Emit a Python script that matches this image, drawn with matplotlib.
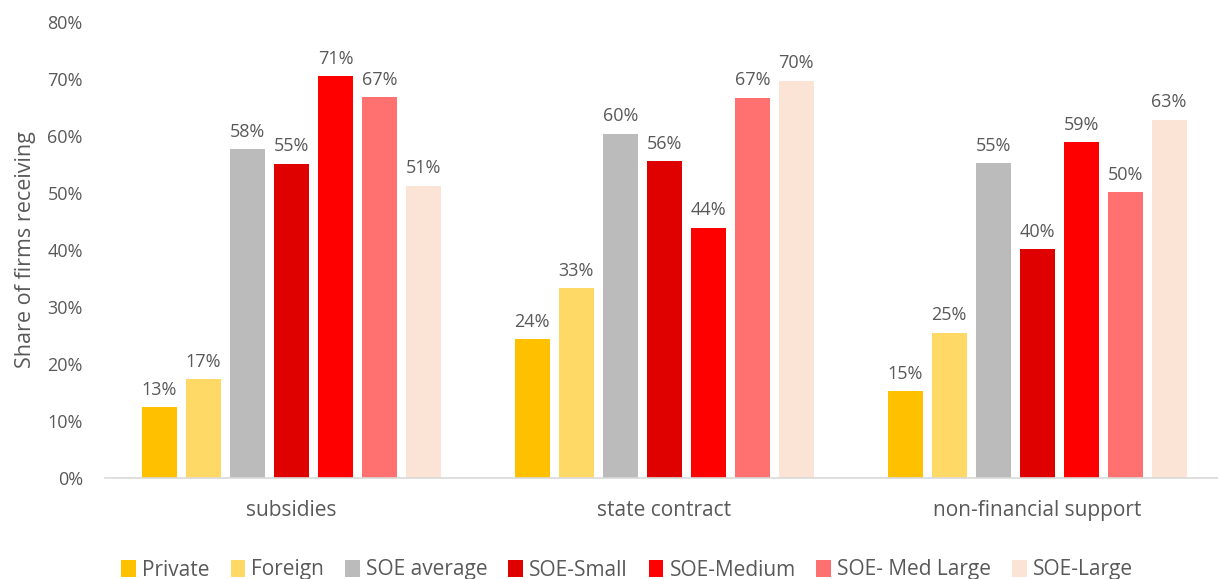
import matplotlib
matplotlib.use("Agg")
import matplotlib.pyplot as plt
import numpy as np
from matplotlib.patches import Patch

categories = ["subsidies", "state contract", "non-financial support"]
series = ["Private", "Foreign", "SOE average", "SOE-Small", "SOE-Medium", "SOE- Med Large", "SOE-Large"]
private = [12.4, 24.3, 15.2]
foreign = [17.3, 33.3, 25.5]
soe_avg = [57.7, 60.4, 55.2]
soe_small = [55.1, 55.6, 40.1]
soe_medium = [70.5, 43.9, 58.9]
soe_medlarge = [66.8, 66.7, 50.1]
soe_large = [51.3, 69.7, 62.8]
labels = [["13%", "24%", "15%"], ["17%", "33%", "25%"], ["58%", "60%", "55%"],
          ["55%", "56%", "40%"], ["71%", "44%", "59%"], ["67%", "67%", "50%"],
          ["51%", "70%", "63%"]]
values = [private, foreign, soe_avg, soe_small, soe_medium, soe_medlarge, soe_large]
colors = ["#FFC000", "#FFD966", "#BBBBBB", "#DF0000", "#FF0000", "#FF7070", "#FBE4D5"]

plt.rcParams['font.family'] = ['Open Sans', 'DejaVu Sans']
txt = "#595959"

fig = plt.figure(figsize=(12.18, 5.79), dpi=100)
ax = fig.add_axes([105/1218, (579-478)/579, (1218-105)/1218, (478-22)/579])

x = np.arange(len(categories))
step = 0.118
width = 0.094
for i, (vals, col) in enumerate(zip(values, colors)):
    pos = x + (i - 3) * step
    bars = ax.bar(pos, vals, width=width, color=col, zorder=2)
    for b, lab in zip(bars, labels[i]):
        ax.text(b.get_x() + b.get_width() / 2, b.get_height() + 1.5, lab,
                ha="center", va="bottom", fontsize=13, color=txt)

ax.set_xlim(-0.5, 2.485)
ax.set_ylim(0, 80)
ax.set_yticks(range(0, 81, 10))
ax.set_yticklabels([f"{v}%" for v in range(0, 81, 10)], fontsize=13, color=txt)
ax.set_xticks(x)
ax.set_xticklabels(categories, fontsize=15, color=txt)
ax.tick_params(axis="both", length=0)
ax.tick_params(axis="y", pad=16)
ax.tick_params(axis="x", pad=16)
for s in ["top", "right", "left"]:
    ax.spines[s].set_visible(False)
ax.spines["bottom"].set_color("#D9D9D9")
ax.spines["bottom"].set_linewidth(1.2)
ax.set_ylabel("Share of firms receiving", fontsize=15.5, color=txt, labelpad=8)

handles = [Patch(facecolor=c, edgecolor="none") for c in colors]
fig.legend(handles, series, loc="center", bbox_to_anchor=(0.515, 9/579), ncol=7,
           frameon=False, fontsize=15, labelcolor=txt, handlelength=0.7,
           handleheight=0.9, handletextpad=0.3, columnspacing=1.0)

fig.savefig("out.png", dpi=100)
